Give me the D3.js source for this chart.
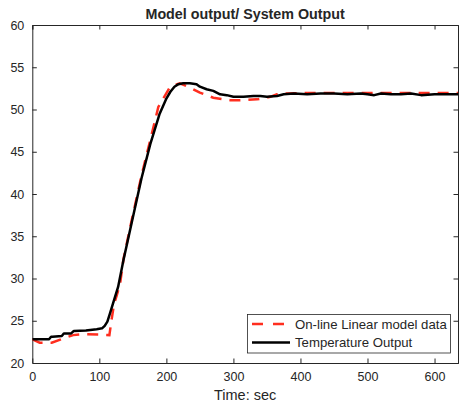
<!DOCTYPE html>
<html><head><meta charset="utf-8">
<script src="https://cdn.jsdelivr.net/npm/d3@7"></script>
<style>body{margin:0;background:#fff}svg{display:block}text{font-family:"Liberation Sans",Arial,sans-serif;fill:#262626}</style>
</head><body><svg id="c" width="459" height="408"></svg>
<script>
const title = "Model output/ System Output";
const xLabel = "Time: sec";
const xTicks = [0,100,200,300,400,500,600];
const yTicks = [20,25,30,35,40,45,50,55,60];
const seriesNames = ["On-line Linear model data","Temperature Output"];

const modelT = [0,11,29,46,61,75,105,115,118,122,126,131,136,148,163,176,188,205,213,220,235,250,270,295,310,335,355,365,380,400,450,500,550,600,635];
const modelV = [22.8,22.4,22.4,22.9,23.3,23.4,23.35,23.3,25.0,27.0,28.0,29.4,32.3,36.8,42.2,46.4,50.3,52.6,52.9,53.1,52.6,52.0,51.4,51.1,51.1,51.2,51.5,51.8,51.9,51.95,51.95,51.95,51.95,51.95,51.95];

const tempT = [0,25,28,30,44,47,58,62,80,96,104,108,112,116,121,128,136,148,163,176,190,200,206,212,218,225,235,245,250,260,270,280,290,300,315,330,340,350,365,375,390,410,430,450,470,490,500,510,520,535,550,565,580,600,620,635];
const tempV = [22.8,22.8,23.1,23.1,23.2,23.5,23.5,23.8,23.85,24.0,24.1,24.4,24.9,25.9,27.2,29.0,32.2,36.5,41.9,45.9,49.5,51.3,52.1,52.7,53.0,53.1,53.1,53.0,52.7,52.4,52.2,51.8,51.7,51.5,51.5,51.6,51.6,51.5,51.6,51.8,51.9,51.8,51.9,51.9,51.8,51.9,51.8,51.7,51.9,51.8,51.8,51.9,51.7,51.8,51.8,51.8];

const L=32.3, R=458, T=25, B=363;
const x = d3.scaleLinear().domain([0,635]).range([L,R]);
const y = d3.scaleLinear().domain([20,60]).range([B,T]);
const svg = d3.select("#c");
const ax = "#262626";

const tl = 4.5;
const bottom = d3.axisBottom(x).tickValues(xTicks).tickSize(-tl).tickPadding(9);
const left = d3.axisLeft(y).tickValues(yTicks).tickSize(-tl).tickPadding(8);
const gb = svg.append("g").attr("transform",`translate(0,${B})`).call(bottom);
const gl = svg.append("g").attr("transform",`translate(${L},0)`).call(left);
const gt = svg.append("g").attr("transform",`translate(0,${T})`).call(d3.axisTop(x).tickValues(xTicks).tickSize(-tl).tickFormat(""));
const gr = svg.append("g").attr("transform",`translate(${R},0)`).call(d3.axisRight(y).tickValues(yTicks).tickSize(-tl).tickFormat(""));
[gb,gl,gt,gr].forEach(a=>{
  a.select(".domain").attr("stroke",ax).attr("stroke-width",1);
  a.selectAll(".tick line").attr("stroke",ax).attr("stroke-width",1);
  a.selectAll(".tick text").attr("fill",ax).style("font-size","12.5px").style("font-family",'"Liberation Sans",Arial,sans-serif');
});
gb.selectAll(".tick line").filter(d=>d===0).remove();
gl.selectAll(".tick line").filter(d=>d===20||d===60).remove();

const line = d3.line().x(d=>x(d[0])).y(d=>y(d[1]));
svg.append("clipPath").attr("id","cp").append("rect").attr("x",L).attr("y",T).attr("width",R-L).attr("height",B-T);
svg.append("path").datum(modelT.map((t,i)=>[t,modelV[i]])).attr("d",line)
  .attr("fill","none").attr("stroke","#ff2e1f").attr("stroke-width",2.5).attr("stroke-dasharray","11,8").attr("clip-path","url(#cp)");
svg.append("path").datum(tempT.map((t,i)=>[t,tempV[i]])).attr("d",line)
  .attr("fill","none").attr("stroke","#000").attr("stroke-width",2.5).attr("stroke-linejoin","round").attr("clip-path","url(#cp)");

svg.append("text").attr("x",(L+R)/2).attr("y",19).attr("text-anchor","middle")
  .style("font-size","14.3px").style("font-weight","bold").attr("fill","#000").text(title);
svg.append("text").attr("x",(L+R)/2).attr("y",400).attr("text-anchor","middle")
  .style("font-size","14.5px").text(xLabel);

const lg = svg.append("g");
lg.append("rect").attr("x",247.5).attr("y",314.5).attr("width",203).attr("height",38.5)
  .attr("fill","#fff").attr("stroke",ax).attr("stroke-width",0.8);
const rows=[{y:324,c:"#ff2e1f",d:"11,10"},{y:342.5,c:"#000",d:null}];
rows.forEach((r,i)=>{
  const ln = lg.append("line").attr("x1",252).attr("x2",290).attr("y1",r.y).attr("y2",r.y)
    .attr("stroke",r.c).attr("stroke-width",2.5);
  if(r.d) ln.attr("stroke-dasharray",r.d);
  lg.append("text").attr("x",295).attr("y",r.y+4.5).style("font-size","13.2px").attr("fill","#000").text(seriesNames[i]);
});
</script></body></html>
